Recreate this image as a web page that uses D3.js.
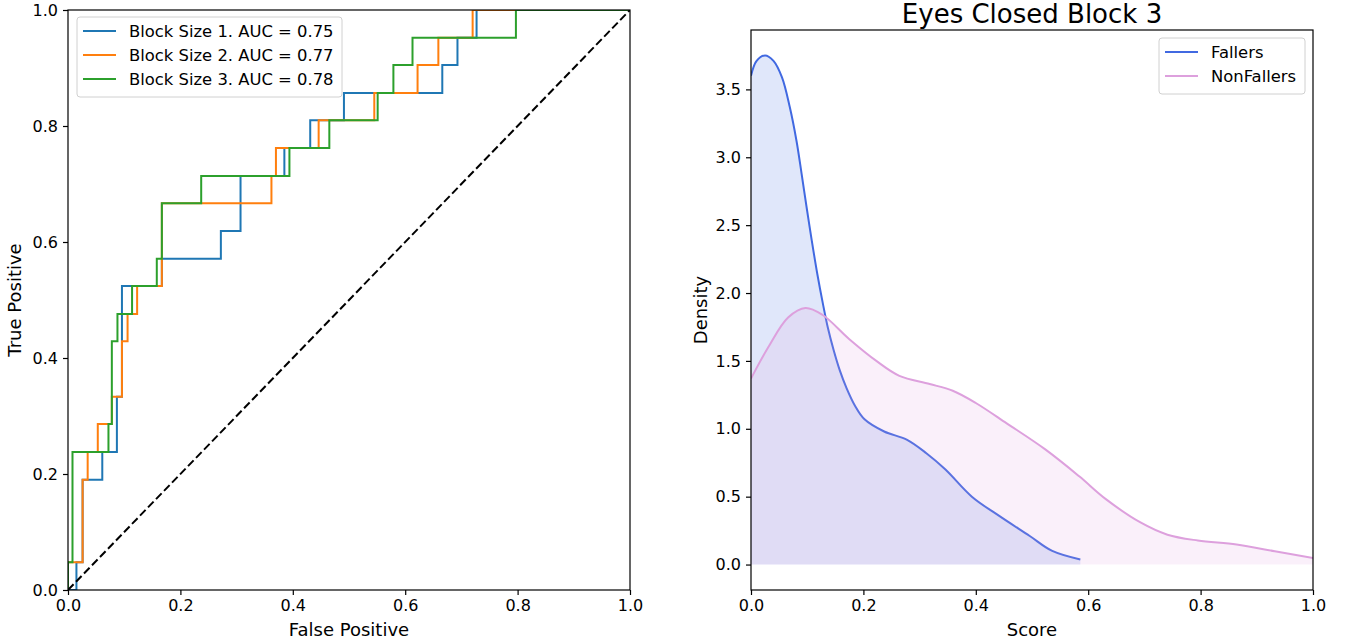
<!DOCTYPE html>
<html>
<head>
<meta charset="utf-8">
<script src="https://cdn.jsdelivr.net/npm/d3@7"></script>
<style>
  body { margin: 0; background: #fff; }
  text { font-family: "DejaVu Sans", sans-serif; fill: #000; }
</style>
</head>
<body>
<svg id="chart" width="1346" height="644"></svg>
<script>
// ROC curves (corner points, fpr / tpr)
const rocNames = ["Block Size 1. AUC = 0.75", "Block Size 2. AUC = 0.77", "Block Size 3. AUC = 0.78"];
const rocColors = ["#1f77b4", "#ff7f0e", "#2ca02c"];

const fpr1 = [0, 0.015, 0.015, 0.026, 0.026, 0.061, 0.061, 0.087, 0.087, 0.096, 0.096, 0.167, 0.167, 0.272, 0.272, 0.307, 0.307, 0.385, 0.385, 0.431, 0.431, 0.491, 0.491, 0.666, 0.666, 0.693, 0.693, 0.727, 0.727, 1];
const tpr1 = [0, 0, 0.048, 0.048, 0.190, 0.190, 0.238, 0.238, 0.333, 0.333, 0.524, 0.524, 0.571, 0.571, 0.619, 0.619, 0.714, 0.714, 0.762, 0.762, 0.810, 0.810, 0.857, 0.857, 0.905, 0.905, 0.952, 0.952, 1, 1];

const fpr2 = [0, 0, 0.026, 0.026, 0.035, 0.035, 0.053, 0.053, 0.078, 0.078, 0.096, 0.096, 0.106, 0.106, 0.123, 0.123, 0.167, 0.167, 0.362, 0.362, 0.370, 0.370, 0.446, 0.446, 0.545, 0.545, 0.622, 0.622, 0.659, 0.659, 0.720, 0.720, 1];
const tpr2 = [0, 0.048, 0.048, 0.190, 0.190, 0.238, 0.238, 0.286, 0.286, 0.333, 0.333, 0.429, 0.429, 0.476, 0.476, 0.524, 0.524, 0.667, 0.667, 0.714, 0.714, 0.762, 0.762, 0.810, 0.810, 0.857, 0.857, 0.905, 0.905, 0.952, 0.952, 1, 1];

const fpr3 = [0, 0, 0.008, 0.008, 0.072, 0.072, 0.078, 0.078, 0.088, 0.088, 0.114, 0.114, 0.158, 0.158, 0.167, 0.167, 0.237, 0.237, 0.394, 0.394, 0.465, 0.465, 0.551, 0.551, 0.579, 0.579, 0.613, 0.613, 0.797, 0.797, 1];
const tpr3 = [0, 0.048, 0.048, 0.238, 0.238, 0.286, 0.286, 0.429, 0.429, 0.476, 0.476, 0.524, 0.524, 0.571, 0.571, 0.667, 0.667, 0.714, 0.714, 0.762, 0.762, 0.810, 0.810, 0.857, 0.857, 0.905, 0.905, 0.952, 0.952, 1, 1];

// density curves
const densityTitle = "Eyes Closed Block 3";
const densityNames = ["Fallers", "NonFallers"];
const densityColors = ["#4169e1", "#dda0dd"];

const fallersX = [0, 0.010, 0.025, 0.040, 0.055, 0.069, 0.081, 0.090, 0.099, 0.108, 0.118, 0.128, 0.137, 0.147, 0.158, 0.170, 0.185, 0.202, 0.237, 0.277, 0.312, 0.346, 0.393, 0.441, 0.496, 0.536, 0.586];
const fallersY = [3.60, 3.71, 3.75, 3.71, 3.59, 3.37, 3.12, 2.88, 2.63, 2.39, 2.14, 1.92, 1.74, 1.58, 1.43, 1.30, 1.17, 1.07, 0.98, 0.92, 0.82, 0.70, 0.50, 0.36, 0.21, 0.10, 0.037];

const nonFallersX = [0, 0.032, 0.066, 0.097, 0.127, 0.175, 0.223, 0.264, 0.318, 0.359, 0.400, 0.455, 0.523, 0.584, 0.632, 0.693, 0.741, 0.795, 0.864, 0.932, 1.0];
const nonFallersY = [1.37, 1.61, 1.82, 1.89, 1.84, 1.66, 1.50, 1.39, 1.33, 1.28, 1.19, 1.04, 0.85, 0.65, 0.48, 0.31, 0.22, 0.177, 0.147, 0.098, 0.049];

const unitTicks = [0, 0.2, 0.4, 0.6, 0.8, 1.0];
const densityTicks = [0, 0.5, 1.0, 1.5, 2.0, 2.5, 3.0, 3.5];

const svg = d3.select("#chart");
const fmt = d3.format(".1f");

function styleAxis(g) {
  g.select(".domain").remove();
  g.selectAll(".tick line").attr("stroke", "#000").attr("stroke-width", 1.2);
  g.selectAll(".tick text").attr("font-size", 16).attr("fill", "#000");
}

function drawFrame(g, x0, x1, y0, y1) {
  g.append("rect")
    .attr("x", x0).attr("y", y0)
    .attr("width", x1 - x0).attr("height", y1 - y0)
    .attr("fill", "none")
    .attr("stroke", "#000")
    .attr("stroke-width", 1.2);
}

function drawLegend(g, x, y, w, names, colors) {
  const lg = g.append("g").attr("transform", `translate(${x},${y})`);
  lg.append("rect")
    .attr("width", w).attr("height", names.length * 24 + 8)
    .attr("rx", 3)
    .attr("fill", "#fff").attr("fill-opacity", 0.8)
    .attr("stroke", "#d0d0d0");
  names.forEach((n, i) => {
    const cy = 14 + i * 24;
    lg.append("line")
      .attr("x1", 6).attr("x2", 39)
      .attr("y1", cy).attr("y2", cy)
      .attr("stroke", colors[i]).attr("stroke-width", 2);
    lg.append("text")
      .attr("x", 52).attr("y", cy)
      .attr("dy", "0.35em")
      .attr("font-size", 16.4)
      .text(n);
  });
}

// ---------- left: ROC ----------
const xRoc = d3.scaleLinear().domain([0, 1]).range([68, 630]);
const yRoc = d3.scaleLinear().domain([0, 1]).range([590, 10]);

svg.append("clipPath").attr("id", "clipRoc")
  .append("rect").attr("x", 68).attr("y", 10).attr("width", 562).attr("height", 580);

const rocG = svg.append("g").attr("clip-path", "url(#clipRoc)");
const rocLine = d3.line().x(d => xRoc(d[0])).y(d => yRoc(d[1]));

[[fpr1, tpr1], [fpr2, tpr2], [fpr3, tpr3]].forEach(([f, t], i) => {
  rocG.append("path")
    .datum(f.map((v, j) => [v, t[j]]))
    .attr("d", rocLine)
    .attr("fill", "none")
    .attr("stroke", rocColors[i])
    .attr("stroke-width", 2);
});

rocG.append("path")
  .datum([[0, 0], [1, 1]])
  .attr("d", rocLine)
  .attr("fill", "none")
  .attr("stroke", "#000")
  .attr("stroke-width", 2)
  .attr("stroke-dasharray", "8,3.5");

svg.append("g")
  .attr("transform", "translate(0,590)")
  .call(d3.axisBottom(xRoc).tickValues(unitTicks).tickFormat(fmt).tickSize(5).tickPadding(5))
  .call(styleAxis);

svg.append("g")
  .attr("transform", "translate(68,0)")
  .call(d3.axisLeft(yRoc).tickValues(unitTicks).tickFormat(fmt).tickSize(5).tickPadding(5))
  .call(styleAxis);

drawFrame(svg, 68, 630, 10, 590);
drawLegend(svg, 77, 17, 265, rocNames, rocColors);

svg.append("text")
  .attr("x", 349).attr("y", 636)
  .attr("text-anchor", "middle")
  .attr("font-size", 18)
  .text("False Positive");

svg.append("text")
  .attr("transform", "translate(21,300) rotate(-90)")
  .attr("text-anchor", "middle")
  .attr("font-size", 18)
  .text("True Positive");

// ---------- right: density ----------
const xDen = d3.scaleLinear().domain([0, 1]).range([751, 1313]);
const yDen = d3.scaleLinear().domain([-0.1875, 3.9375]).range([590, 30]);

svg.append("clipPath").attr("id", "clipDen")
  .append("rect").attr("x", 751).attr("y", 30).attr("width", 562).attr("height", 560);

const denG = svg.append("g").attr("clip-path", "url(#clipDen)");

const area = d3.area()
  .x(d => xDen(d[0]))
  .y0(yDen(0))
  .y1(d => yDen(d[1]))
  .curve(d3.curveCatmullRom);

const denLine = d3.line()
  .x(d => xDen(d[0]))
  .y(d => yDen(d[1]))
  .curve(d3.curveCatmullRom);

[[fallersX, fallersY], [nonFallersX, nonFallersY]].forEach(([xs, ys], i) => {
  const pts = xs.map((v, j) => [v, ys[j]]);
  denG.append("path")
    .datum(pts)
    .attr("d", area)
    .attr("fill", densityColors[i])
    .attr("fill-opacity", 0.16);
  denG.append("path")
    .datum(pts)
    .attr("d", denLine)
    .attr("fill", "none")
    .attr("stroke", densityColors[i])
    .attr("stroke-width", 2);
});

svg.append("g")
  .attr("transform", "translate(0,590)")
  .call(d3.axisBottom(xDen).tickValues(unitTicks).tickFormat(fmt).tickSize(5).tickPadding(5))
  .call(styleAxis);

svg.append("g")
  .attr("transform", "translate(751,0)")
  .call(d3.axisLeft(yDen).tickValues(densityTicks).tickFormat(fmt).tickSize(5).tickPadding(5))
  .call(styleAxis);

drawFrame(svg, 751, 1313, 30, 590);
drawLegend(svg, 1159, 38, 146, densityNames, densityColors);

svg.append("text")
  .attr("x", 1032).attr("y", 23)
  .attr("text-anchor", "middle")
  .attr("font-size", 26)
  .text(densityTitle);

svg.append("text")
  .attr("x", 1032).attr("y", 636)
  .attr("text-anchor", "middle")
  .attr("font-size", 18)
  .text("Score");

svg.append("text")
  .attr("transform", "translate(707,310) rotate(-90)")
  .attr("text-anchor", "middle")
  .attr("font-size", 18)
  .text("Density");
</script>
</body>
</html>
